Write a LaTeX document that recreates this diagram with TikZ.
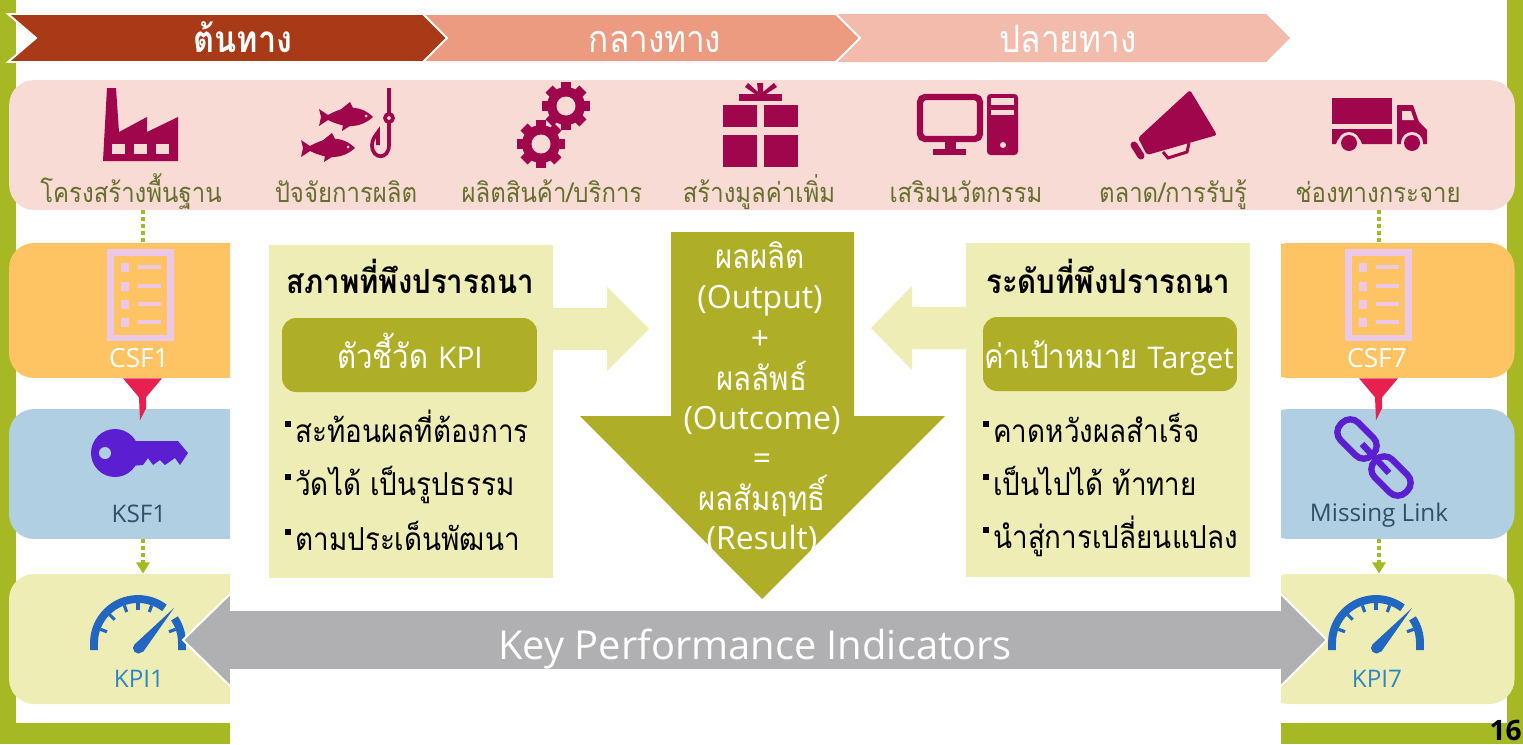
\documentclass[tikz,border=0pt]{standalone}
\usepackage{fontspec}
\usepackage{xcolor}
\usepackage{tikz}
\setmainfont{Loma}[Script=Thai,FakeStretch=0.88]
\newfontfamily\latinfont{Open Sans}
\usetikzlibrary{calc}
\usetikzlibrary{arrows.meta}
\definecolor{framec}{HTML}{A6B924}
\definecolor{startc}{HTML}{A93A17}
\definecolor{midc}{HTML}{EC9A80}
\definecolor{endc}{HTML}{F3BBAB}
\definecolor{pinkc}{HTML}{F8DBD5}
\definecolor{orangec}{HTML}{FEC463}
\definecolor{bluec}{HTML}{B1CFE2}
\definecolor{palec}{HTML}{EEEDB5}
\definecolor{olivec}{HTML}{AFAF27}
\definecolor{grayc}{HTML}{B0B0B2}
\definecolor{iconc}{HTML}{9F064C}
\definecolor{keyc}{HTML}{5B1ED0}
\definecolor{gaugec}{HTML}{2166C0}
\definecolor{funnelc}{HTML}{E82050}
\definecolor{lilacc}{HTML}{EBC9E6}
\definecolor{labelc}{HTML}{66702D}
\definecolor{ksftextc}{HTML}{2F5068}
\definecolor{kpitextc}{HTML}{2E86C1}
\tikzset{
  band/.style={rounded corners=0.5cm,minimum width=5.02cm,minimum height=#1,inner sep=0pt},
  steptext/.style={anchor=base,text=white,font=\fontsize{21.5}{25}\selectfont},
  toplabel/.style={anchor=base,text=labelc,font=\fontsize{15.5}{18}\selectfont},
  sidelabel/.style={font=\latinfont\fontsize{13.8}{16}\selectfont},
  headtext/.style={anchor=base,font=\bfseries\fontsize{19}{22}\selectfont},
  pointtext/.style={anchor=base west,inner sep=0pt,font=\fontsize{18}{21}\selectfont},
  boxtext/.style={anchor=base,text=white,font=\fontsize{19}{22}\selectfont},
  midtext/.style={anchor=base,text=white,font=\fontsize{19}{22}\selectfont},
  midlatin/.style={anchor=base,text=white,font=\latinfont\fontsize{18.2}{22}\selectfont},
  dotlink/.style={framec,line width=2.2pt,dash pattern=on 2.2pt off 1.7pt}
}
% left-hand icons, moved to the right column with an offset
\newcommand{\csficon}[1]{
  \begin{scope}[xshift=#1*0.02cm]
    \draw [lilacc,line width=3.6pt] (110.5,252.5) rectangle (170.5,338);
    \foreach \y in {267,286,304,322} {
      \fill [lilacc] (121,\y-4.5) rectangle (129,\y+4.5);
      \fill [lilacc] (138,\y-2) rectangle (161,\y+2);
    }
  \end{scope}
}
\newcommand{\gaugeicon}[1]{
  \begin{scope}[xshift=#1*0.02cm]
    \draw [gaugec,line width=4.5pt] (94,650) -- (94,643) arc[start angle=-180,end angle=-53,radius=44];
    \draw [gaugec,line width=4.5pt] ({138+44*cos(34)},{643-44*sin(34)}) arc[start angle=-34,end angle=0,radius=44] -- (182,650);
    \foreach \a in {160,135,110,90,70,20} {
      \draw [gaugec,line width=1.8pt] ({138+40*cos(\a)},{643-40*sin(\a)}) -- ({138+33*cos(\a)},{643-33*sin(\a)});
    }
    \fill [gaugec] (174,608) -- (143,652) -- (135,644) -- cycle;
    \fill [gaugec] (138.5,648) circle (5.5);
  \end{scope}
}
\newcommand{\gearicon}[2]{
  \begin{scope}[shift={(#1,#2)}]
    \foreach \a in {0,45,...,315} {
      \fill [iconc,rotate=\a] (-5,-24) rectangle (5,0);
    }
    \fill [iconc] (0,0) circle (19);
    \fill [pinkc] (0,0) circle (9.5);
  \end{scope}
}
\newcommand{\fishicon}[2]{
  \begin{scope}[shift={(#1,#2)}]
    \fill [iconc] (27,0) .. controls (15,-12) and (0,-12) .. (-18,-2) -- (-27,-8) -- (-25,0) -- (-27,9) -- (-18,3) .. controls (0,12) and (15,11) .. (27,0);
    \fill [iconc] (-6,-7) -- (4,-15) -- (8,-7) -- cycle;
    \fill [iconc] (-3,7) -- (-4,14) -- (7,7) -- cycle;
    \fill [pinkc] (20,-1) circle (1.5);
  \end{scope}
}
\begin{document}
\begin{tikzpicture}[line cap=butt,line join=miter,>={Triangle[length=6.5pt,width=7.5pt]},x=0.02cm,y=-0.02cm]
  \useasboundingbox (0,0) rectangle (1523,744);
  % frame
  \fill [framec] (0,0) rectangle (16,744);
  \fill [framec] (1507,0) rectangle (1523,744);
  \fill [framec] (0,723) rectangle (230,744);
  \fill [framec] (1281,723) rectangle (1523,744);
  % bands
  \node [band=2.6cm,minimum width=30.12cm,fill=pinkc] (chain) at (762,145) {};
  \begin{scope}
    \clip (0,0) rectangle (230,744);
    \node [band=2.7cm,fill=orangec] (csfa) at (134.5,310.5) {};
    \node [band=2.6cm,fill=bluec] (ksfa) at (134.5,474) {};
    \node [band=2.6cm,fill=palec] (kpia) at (134.5,639) {};
  \end{scope}
  \begin{scope}
    \clip (1281,0) rectangle (1523,744);
    \node [band=2.7cm,fill=orangec] (csfg) at (1389,310.5) {};
    \node [band=2.6cm,fill=bluec] (ksfg) at (1389,474) {};
    \node [band=2.6cm,fill=palec] (kpig) at (1389,639) {};
  \end{scope}
  % steps
  \fill [endc] (830,14) -- (1266,14) -- (1290,38) -- (1266,62) -- (830,62) -- cycle;
  \filldraw [midc,draw=white,line width=1.1pt] (416,14) -- (836,14) -- (860,38) -- (836,62) -- (416,62) -- cycle;
  \filldraw [startc,draw=white,line width=1.1pt] (8,14) -- (423,14) -- (447,38) -- (423,62) -- (8,62) -- (36,38) -- cycle;
  \node [steptext,font=\bfseries\fontsize{21}{25}\selectfont] (stepa) at (243,52) {ต้นทาง};
  \node [steptext] (stepb) at (655,52) {กลางทาง};
  \node [steptext] (stepc) at (1068,52) {ปลายทาง};
  % top labels, cut off by the lower edge of the band
  \begin{scope}
    \clip (0,70) rectangle (1523,210);
    \node [toplabel] (infra) at (131,202) {โครงสร้างพื้นฐาน};
    \node [toplabel] (factor) at (346,202) {ปัจจัยการผลิต};
    \node [toplabel] (product) at (552,202) {ผลิตสินค้า/บริการ};
    \node [toplabel] (value) at (759,202) {สร้างมูลค่าเพิ่ม};
    \node [toplabel] (innov) at (966,202) {เสริมนวัตกรรม};
    \node [toplabel] (market) at (1173,202) {ตลาด/การรับรู้};
    \node [toplabel] (channel) at (1378,202) {ช่องทางกระจาย};
  \end{scope}
  % factory
  \fill [iconc] (107,88) -- (116,88) -- (119,132) -- (147,117) -- (147,132) -- (178,117) -- (178,161) -- (103,161) -- cycle;
  \foreach \x in {112,134,156} {
    \fill [pinkc] (\x,144) rectangle (\x+13,154);
  }
  % fish and hook
  \fishicon{346}{117}
  \fishicon{328}{148}
  \draw [iconc,line width=2.1pt] (389,88) -- (389,145) .. controls (389,160) and (372,160) .. (372,145) .. controls (372,140) and (375,136) .. (378,132) -- (378,145);
  \filldraw [fill=pinkc,draw=iconc,line width=2.1pt] (389,118) circle (4);
  % gears
  \gearicon{566}{106}
  \gearicon{541}{144}
  % gift
  \fill [iconc] (723,105) rectangle (757,127);
  \fill [iconc] (764,105) rectangle (798,127);
  \fill [iconc] (723,135) rectangle (757,167);
  \fill [iconc] (764,135) rectangle (798,167);
  \fill [iconc] (739,94) rectangle (782,101);
  \fill [iconc] (755,94) -- (745,87) -- (748,83) -- (758,92) -- (757,83) -- (763,83) -- (763,92) -- (774,83) -- (777,87) -- (766,94) -- cycle;
  % computer
  \draw [iconc,line width=3.6pt,rounded corners=3pt] (920,97) rectangle (980,139);
  \fill [iconc] (945,141) rectangle (956,150);
  \fill [iconc] (933,149) rectangle (966,155);
  \fill [iconc,rounded corners=2pt] (987,94) rectangle (1018,155);
  \fill [pinkc] (991,98) rectangle (1014,105);
  \fill [pinkc] (991,110) rectangle (1014,115);
  \fill [pinkc] (1003,145) circle (3);
  % megaphone
  \fill [iconc,rounded corners=1.5pt] (1190,90) -- (1217,135) -- (1147,155) -- (1138,138) -- cycle;
  \draw [iconc,line width=4pt,line cap=round] (1134,145) -- (1141,156);
  \draw [iconc,line width=1.7pt] (1163,152) -- (1168,158) -- (1187,152) -- (1189,143);
  % truck
  \fill [iconc] (1332,98) rectangle (1392,124);
  \fill [iconc] (1332,129) -- (1392,129) -- (1392,144) -- (1362,144) .. controls (1360,132) and (1338,132) .. (1336,144) -- (1332,144) -- cycle;
  \fill [iconc] (1397,105) -- (1413,105) -- (1419,122) -- (1427,130) -- (1427,144) -- (1397,144) -- cycle;
  \fill [pinkc] (1402,111) -- (1411,111) -- (1414,120) -- (1402,120) -- cycle;
  \fill [pinkc] (1412,143) circle (11);
  \fill [pinkc] (1349,143) circle (11);
  \fill [iconc] (1412,143) circle (8);
  \fill [iconc] (1349,143) circle (8);
  % checklists
  \csficon{0}
  \csficon{1238}
  \node [sidelabel,text=white,font=\latinfont\fontsize{15}{18}\selectfont] (csfatext) at (139,358) {CSF1};
  \node [sidelabel,text=white,font=\latinfont\fontsize{15}{18}\selectfont] (csfgtext) at (1377,358) {CSF7};
  \node [sidelabel,text=ksftextc] (ksfatext) at (139,514) {KSF1};
  \node [sidelabel,text=ksftextc] (ksfgtext) at (1379,515) {Missing Link};
  \node [sidelabel,text=kpitextc] (kpiatext) at (139,679) {KPI1};
  \node [sidelabel,text=kpitextc] (kpigtext) at (1377,679) {KPI7};
  % links between the bands
  \coordinate (linka) at (143,0);
  \coordinate (linkg) at (1379,0);
  \draw [dotlink] (linka|-chain.south) -- (linka|-csfa.north);
  \draw [dotlink] (linkg|-chain.south) -- (linkg|-csfg.north);
  \draw [dotlink,->] (linka|-ksfa.south) -- (linka|-kpia.north);
  \draw [dotlink,->] (linkg|-ksfg.south) -- (linkg|-kpig.north);
  \foreach \n/\b in {linka/csfa,linkg/csfg} {
    \fill [funnelc,shift={(\n|-\b.south)}] (-20,0) -- (19,0) -- (3,19) -- (3,30) -- (-3,42) -- (-4,19) -- cycle;
  }
  % key
  \fill [keyc] (115,453) circle (24);
  \fill [keyc] (130,441) -- (178,441) -- (188,453) -- (180,465) -- (175,458) -- (165,465) -- (160,460) -- (153,465) -- (148,458) -- (143,465) -- (130,466) -- cycle;
  \fill [bluec] (105,453) circle (6);
  % chain links
  \draw [keyc,line width=3.6pt,rounded corners=6.5pt,shift={(1357,439)},rotate=-45] (-22,-12.5) rectangle (22,12.5);
  \draw [keyc,line width=3.6pt,rounded corners=6.5pt,shift={(1391,476)},rotate=-45] (-22,-12.5) rectangle (22,12.5);
  \draw [keyc,line width=3.6pt] (1362,444) -- (1389,473);
  % gauges and the long arrow
  \gaugeicon{0}
  \gaugeicon{1238}
  \filldraw [grayc,draw=white,line width=1.1pt] (183,640) -- (231,593) -- (231,610) -- (1280,610) -- (1280,593) -- (1327,640) -- (1280,687) -- (1280,670) -- (231,670) -- (231,687) -- cycle;
  \node [text=white,font=\latinfont\fontsize{22.7}{27}\selectfont] (kpiband) at (755,649) {Key Performance Indicators};
  % middle arrow
  \fill [palec] (553,308) -- (607,308) -- (607,287) -- (649,329) -- (607,371) -- (607,350) -- (553,350) -- cycle;
  \fill [palec] (966,307) -- (912,307) -- (912,286) -- (871,328) -- (912,370) -- (912,349) -- (966,349) -- cycle;
  \fill [olivec] (671,232) -- (854,232) -- (854,416) -- (945,416) -- (762,599) -- (580,416) -- (671,416) -- cycle;
  \node [midtext] (output) at (760,268) {ผลผลิต};
  \node [midlatin] (outputen) at (760,308) {(Output)};
  \node [midlatin] (plus) at (760,349) {+};
  \node [midtext] (outcome) at (762,390) {ผลลัพธ์};
  \node [midlatin] (outcomeen) at (762,429) {(Outcome)};
  \node [midlatin] (equal) at (762,469) {=};
  \node [midtext] (result) at (762,510) {ผลสัมฤทธิ์};
  \node [midlatin] (resulten) at (762,549) {(Result)};
  % left box
  \fill [palec] (269,245) rectangle (553,578);
  \node [headtext] (statehead) at (410,293) {สภาพที่พึงปรารถนา};
  \node [fill=olivec,rounded corners=0.28cm,minimum width=5.1cm,minimum height=1.48cm,inner sep=0pt] (kpibox) at (409.5,355) {};
  \node [boxtext] (kpilabel) at (410,368) {ตัวชี้วัด {\latinfont\fontsize{17}{20}\selectfont KPI}};
  \foreach \y/\t/\n in {442/สะท้อนผลที่ต้องการ/sa,495/วัดได้ เป็นรูปธรรม/sb,550/ตามประเด็นพัฒนา/sc} {
    \fill (285,\y-21) rectangle (291,\y-15);
    \node [pointtext] (\n) at (295,\y) {\t};
  }
  % right box
  \fill [palec] (966,243) rectangle (1250,577);
  \node [headtext] (levelhead) at (1108,293) {ระดับที่พึงปรารถนา};
  \node [fill=olivec,rounded corners=0.28cm,minimum width=5.08cm,minimum height=1.48cm,inner sep=0pt] (targetbox) at (1110,354) {};
  \node [boxtext] (targetlabel) at (1109,368) {ค่าเป้าหมาย {\latinfont\fontsize{17}{20}\selectfont Target}};
  \foreach \y/\t/\n in {442/คาดหวังผลสำเร็จ/ra,495/เป็นไปได้ ท้าทาย/rb,548/นำสู่การเปลี่ยนแปลง/rc} {
    \fill (983,\y-21) rectangle (989,\y-15);
    \node [pointtext] (\n) at (993,\y) {\t};
  }
  \node [anchor=east,inner sep=0pt,font=\latinfont\bfseries\fontsize{16}{19}\selectfont] (pageno) at (1522,730) {16};
\end{tikzpicture}
\end{document}
